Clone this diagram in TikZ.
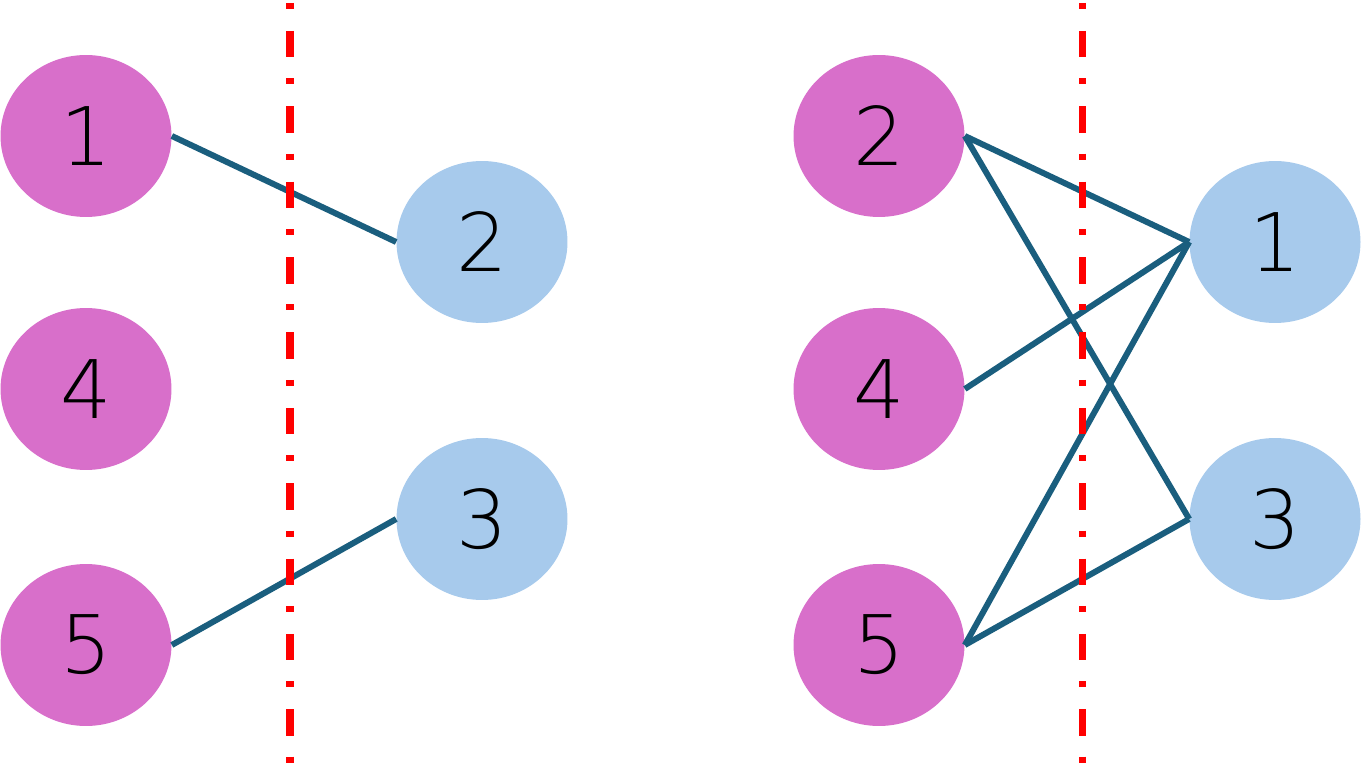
\documentclass[tikz,border=0pt]{standalone}
\usepackage{fontspec}
\usetikzlibrary{shapes.geometric}
\newfontfamily\digitfont{DejaVu Sans ExtraLight}
\definecolor{nodepink}{HTML}{D86FCA}
\definecolor{nodeblue}{HTML}{A7CAEC}
\definecolor{linkteal}{HTML}{1A5E7E}

\begin{document}
\begin{tikzpicture}[x=0.02cm,y=-0.02cm,
  vertex/.style={ellipse, minimum width=3.42cm, minimum height=3.24cm, inner sep=0pt,
    font=\digitfont\fontsize{46}{46}\selectfont},
  pinkv/.style={vertex, fill=nodepink},
  bluev/.style={vertex, fill=nodeblue},
  link/.style={linkteal, line width=3.4pt},
  cut/.style={red, line width=4pt, dash pattern=on 3.4pt off 12.5pt on 15.1pt off 11.9pt}]

\useasboundingbox (0,0) rectangle (1361,766);

% left graph
\node[pinkv] (lp1) at (86,136) {1};
\node[pinkv] (lp4) at (86,389) {4};
\node[pinkv] (lp5) at (86,645) {5};
\node[bluev] (lb2) at (482,242) {2};
\node[bluev] (lb3) at (482,519) {3};

\draw[link] (lp1.east) -- (lb2.west);
\draw[link] (lp5.east) -- (lb3.west);

% right graph
\node[pinkv] (rp2) at (879,136) {2};
\node[pinkv] (rp4) at (879,389) {4};
\node[pinkv] (rp5) at (879,645) {5};
\node[bluev] (rb1) at (1275,242) {1};
\node[bluev] (rb3) at (1275,519) {3};

\draw[link] (rp2.east) -- (rb1.west);
\draw[link] (rp2.east) -- (rb3.west);
\draw[link] (rp4.east) -- (rb1.west);
\draw[link] (rp5.east) -- (rb1.west);
\draw[link] (rp5.east) -- (rb3.west);

% cut lines
\coordinate (lcutt) at (290,3);
\coordinate (lcutb) at (290,766);
\coordinate (rcutt) at (1082,3);
\coordinate (rcutb) at (1082,766);
\draw[cut] (lcutt) -- (lcutb);
\draw[cut] (rcutt) -- (rcutb);

\end{tikzpicture}
\end{document}
